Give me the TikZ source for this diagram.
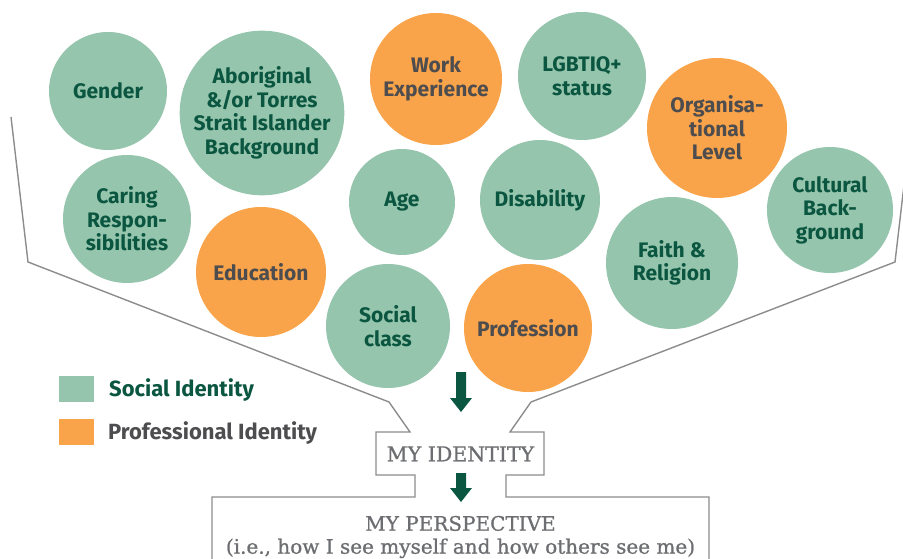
\documentclass[tikz,border=0pt]{standalone}
\usepackage{fontspec}
\setmainfont{Fira Sans}
\newfontfamily\slab{DejaVu Serif}[FakeBold=0.9]
\definecolor{cgreen}{HTML}{96C5AD}
\definecolor{corange}{HTML}{F9A34A}
\definecolor{tgreen}{HTML}{0B5640}
\definecolor{tgray}{HTML}{4D4D4F}
\definecolor{bgray}{HTML}{6D6E71}
\definecolor{lgray}{HTML}{8C8C8C}
\begin{document}
\begin{tikzpicture}[x=1pt,y=-1pt,
  circ/.style={circle, inner sep=0pt, align=center,
     font=\bfseries\fontsize{21}{23.5}\selectfont},
  gc/.style={circ, fill=cgreen, text=tgreen},
  oc/.style={circ, fill=corange, text=tgray},
  funnel/.style={draw=lgray, line width=1.4pt, line join=miter},
  arr/.style={fill=tgreen},
  legbox/.style={inner sep=0pt, minimum width=35pt, minimum height=26pt},
  legtext/.style={anchor=west, inner sep=0pt, font=\bfseries\fontsize{22}{24}\selectfont},
  boxtext/.style={text=bgray, align=center, inner sep=0pt}]
\useasboundingbox (0,0) rectangle (903,559);
\clip (0,0) rectangle (903,559);
% circles
\node[gc, minimum size=118pt] (gender) at (108,91) {Gender};
\node[gc, minimum size=162pt] (abor) at (262,113) {Aboriginal\\\&/or Torres\\Strait Islander\\Background};
\node[oc, minimum size=132pt] (work) at (436,79) {Work\\Experience};
\node[gc, minimum size=128pt] (lgbt) at (582,76) {LGBTIQ+\\status};
\node[oc, minimum size=140pt] (org) at (717,128) {Organisa-\\tional\\Level};
\node[gc, minimum size=126pt] (cult) at (830,210) {Cultural\\Back-\\ground};
\node[gc, minimum size=128pt] (caring) at (127,219) {Caring\\Respon-\\sibilities};
\node[gc, minimum size=106pt] (age) at (402,202) {Age};
\node[gc, minimum size=120pt] (disab) at (540,200) {Disability};
\node[oc, minimum size=130pt] (edu) at (261,272) {Education};
\node[gc, minimum size=132pt] (faith) at (672,263) {Faith \&\\Religion};
\node[gc, minimum size=124pt] (social) at (388,326) {Social\\class};
\node[oc, minimum size=128pt] (prof) at (528,328) {Profession};
% funnel outline
\draw[funnel] (11,117) -- (28,262) -- (389,402) -- (410,432) -- (376,432) -- (376,475)
  -- (415,475) -- (415,497) -- (212,497) -- (212,570);
\draw[funnel] (912,117) -- (895,262) -- (531,402) -- (510,432) -- (544,432) -- (544,475)
  -- (506,475) -- (506,497) -- (709,497) -- (709,570);
% texts of boxes
\node[boxtext, font=\slab\fontsize{20.5}{24}\selectfont] (ident) at (460.5,454) {MY IDENTITY};
\node[boxtext, font=\slab\fontsize{20}{23}\selectfont] (persp) at (460.5,537)
  {MY PERSPECTIVE\\(i.e., how I see myself and how others see me)};
% arrows
\coordinate (a1) at (461,372);
\coordinate (a2) at (461,473);
\fill[arr] (a1) ++(-5,0) -- ++(10,0) -- ++(0,26) -- ++(6,0) -- ++(-11,14) -- ++(-11,-14) -- ++(6,0) -- cycle;
\fill[arr] (a2) ++(-5,0) -- ++(10,0) -- ++(0,15) -- ++(6,0) -- ++(-11,14) -- ++(-11,-14) -- ++(6,0) -- cycle;
% legend
\node[legbox, fill=cgreen] (lg) at (76.5,389) {};
\node[legbox, fill=corange] (lo) at (76.5,431.5) {};
\node[legtext, text=tgreen] (lgt) at (109,390) {Social Identity};
\node[legtext, text=tgray] (lot) at (108,433) {Professional Identity};
\end{tikzpicture}
\end{document}
